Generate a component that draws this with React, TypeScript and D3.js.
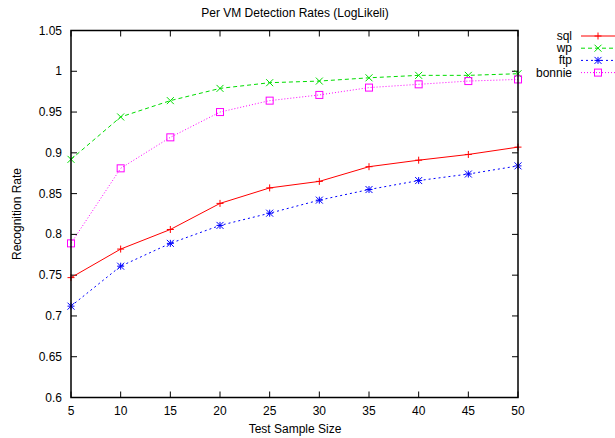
import React from "react";
import * as d3 from "d3";

const sampleSizes = [5, 10, 15, 20, 25, 30, 35, 40, 45, 50];
const sqlRates = [0.747, 0.782, 0.806, 0.838, 0.857, 0.865, 0.883, 0.891, 0.898, 0.907];
const wpRates = [0.892, 0.944, 0.964, 0.979, 0.986, 0.988, 0.992, 0.995, 0.995, 0.997];
const ftpRates = [0.712, 0.761, 0.789, 0.811, 0.826, 0.842, 0.855, 0.866, 0.874, 0.884];
const bonnieRates = [0.789, 0.881, 0.919, 0.950, 0.964, 0.971, 0.980, 0.984, 0.988, 0.990];
const yTicks = [0.6, 0.65, 0.7, 0.75, 0.8, 0.85, 0.9, 0.95, 1, 1.05];
const yTickLabels = ["0.6", "0.65", "0.7", "0.75", "0.8", "0.85", "0.9", "0.95", "1", "1.05"];
const xTicks = [5, 10, 15, 20, 25, 30, 35, 40, 45, 50];

const series = [
  { name: "sql", values: sqlRates, color: "#ff0000", dash: "none", marker: "plus" },
  { name: "wp", values: wpRates, color: "#00dd00", dash: "4,3", marker: "cross" },
  { name: "ftp", values: ftpRates, color: "#0000ff", dash: "2,3", marker: "star" },
  { name: "bonnie", values: bonnieRates, color: "#ff00ff", dash: "1,2", marker: "square" },
];

function Marker({ type, x, y, color }: { type: string; x: number; y: number; color: string }) {
  const s = 3.5;
  if (type === "plus")
    return <path d={`M${x - s},${y}H${x + s}M${x},${y - s}V${y + s}`} stroke={color} strokeWidth={1} fill="none" />;
  if (type === "cross")
    return <path d={`M${x - s},${y - s}L${x + s},${y + s}M${x - s},${y + s}L${x + s},${y - s}`} stroke={color} strokeWidth={1} fill="none" />;
  if (type === "star")
    return (
      <path
        d={`M${x - s},${y}H${x + s}M${x},${y - s}V${y + s}M${x - s},${y - s}L${x + s},${y + s}M${x - s},${y + s}L${x + s},${y - s}`}
        stroke={color}
        strokeWidth={1}
        fill="none"
      />
    );
  return <rect x={x - s} y={y - s} width={2 * s} height={2 * s} stroke={color} strokeWidth={1} fill="none" />;
}

export default function App() {
  const W = 615, H = 438;
  const left = 71, right = 518, top = 30.5, bottom = 397.5;
  const x = d3.scaleLinear().domain([5, 50]).range([left, right]);
  const y = d3.scaleLinear().domain([0.6, 1.05]).range([bottom, top]);
  const line = d3.line<[number, number]>().x((d) => x(d[0])).y((d) => y(d[1]));
  const font = "'Liberation Sans', Arial, sans-serif";
  const tl = 6;

  return (
    <svg width={W} height={H} style={{ position: "absolute", left: 0, top: 0, background: "#fff" }} fontFamily={font}>
      <rect x={0} y={0} width={W} height={H} fill="#fff" />
      <text x={295} y={17} textAnchor="middle" fontSize={12} fill="#000">
        Per VM Detection Rates (LogLikeli)
      </text>
      {yTicks.map((t, i) => (
        <g key={"y" + i}>
          <line x1={left} x2={left + tl} y1={y(t)} y2={y(t)} stroke="#000" />
          <line x1={right} x2={right - tl} y1={y(t)} y2={y(t)} stroke="#000" />
          <text x={left - 9} y={y(t) + 4} textAnchor="end" fontSize={12} fill="#000">
            {yTickLabels[i]}
          </text>
        </g>
      ))}
      {xTicks.map((t, i) => (
        <g key={"x" + i}>
          <line x1={x(t)} x2={x(t)} y1={bottom} y2={bottom - tl} stroke="#000" />
          <line x1={x(t)} x2={x(t)} y1={top} y2={top + tl} stroke="#000" />
          <text x={x(t)} y={bottom + 17} textAnchor="middle" fontSize={12} fill="#000">
            {t}
          </text>
        </g>
      ))}
      <text x={295} y={433} textAnchor="middle" fontSize={12} fill="#000">
        Test Sample Size
      </text>
      <text transform={`translate(21,${(top + bottom) / 2}) rotate(-90)`} textAnchor="middle" fontSize={12} fill="#000">
        Recognition Rate
      </text>
      {series.map((s) => {
        const pts: [number, number][] = sampleSizes.map((v, i) => [v, s.values[i]]);
        return (
          <g key={s.name}>
            <path d={line(pts) || ""} fill="none" stroke={s.color} strokeWidth={1} strokeDasharray={s.dash} />
            {pts.map((p, i) => (
              <Marker key={i} type={s.marker} x={x(p[0])} y={y(p[1])} color={s.color} />
            ))}
          </g>
        );
      })}
      <rect x={left} y={top} width={right - left} height={bottom - top} fill="none" stroke="#000" strokeWidth={1.5} />
      {series.map((s, i) => {
        const ly = 36 + i * 12.2;
        return (
          <g key={"lg" + s.name}>
            <text x={572} y={ly + 4} textAnchor="end" fontSize={12} fill="#000">
              {s.name}
            </text>
            <line x1={581} x2={615} y1={ly} y2={ly} stroke={s.color} strokeDasharray={s.dash} />
            <Marker type={s.marker} x={598} y={ly} color={s.color} />
          </g>
        );
      })}
    </svg>
  );
}
